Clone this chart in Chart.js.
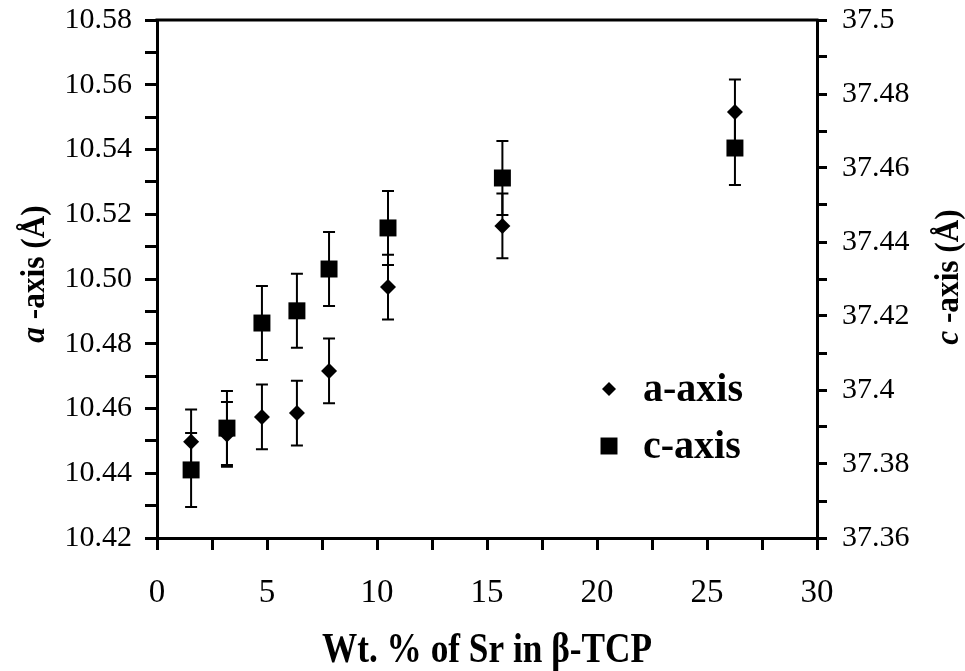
<!DOCTYPE html>
<html lang="en">
<head>
<meta charset="UTF-8">
<title>Lattice parameters vs Sr content</title>
<script src="https://cdn.jsdelivr.net/npm/chart.js"></script>
<style>
    html, body { margin: 0; padding: 0; background: #fff; }
    .wrap { width: 965px; height: 671px; position: relative; }
</style>
</head>
<body>
<div class="wrap"><canvas id="latticeChart"></canvas></div>
<script>
// data
const wtSr = [1.55, 3.18, 4.77, 6.36, 7.82, 10.5, 15.7, 26.27];
const aAxis = [10.4497, 10.452, 10.4574, 10.4586, 10.4716, 10.4975, 10.5164, 10.5516];
const aErr = [0.01, 0.01, 0.01, 0.01, 0.01, 0.01, 0.01, 0.01];
const cAxis = [37.3784, 37.3897, 37.4181, 37.4214, 37.4327, 37.4438, 37.4573, 37.4654];
const cErr = [0.01, 0.01, 0.01, 0.01, 0.01, 0.01, 0.01, 0.01];

// ticks (minor ticks have an empty label)
const xTicks = [0, 2.5, 5, 7.5, 10, 12.5, 15, 17.5, 20, 22.5, 25, 27.5, 30];
const xLabels = ['0', '', '5', '', '10', '', '15', '', '20', '', '25', '', '30'];
const aTicks = [10.42, 10.43, 10.44, 10.45, 10.46, 10.47, 10.48, 10.49, 10.50, 10.51, 10.52, 10.53, 10.54, 10.55, 10.56, 10.57, 10.58];
const aLabels = ['10.42', '', '10.44', '', '10.46', '', '10.48', '', '10.50', '', '10.52', '', '10.54', '', '10.56', '', '10.58'];
const cTicks = [37.36, 37.37, 37.38, 37.39, 37.40, 37.41, 37.42, 37.43, 37.44, 37.45, 37.46, 37.47, 37.48, 37.49, 37.50];
const cLabels = ['37.36', '', '37.38', '', '37.4', '', '37.42', '', '37.44', '', '37.46', '', '37.48', '', '37.5'];

const xTitle = 'Wt. % of Sr in \u03B2-TCP';
const serif = '"Liberation Serif", "Times New Roman", serif';

const toPoints = (ys) => wtSr.map((x, i) => ({ x: x, y: ys[i] }));
const setTicks = (values) => (scale) => { scale.ticks = values.map(v => ({ value: v })); };
// fixed axis box sizes so the plot area sits where it does in the figure
const fixBox = (w, h) => (s) => {
    if (w !== null) s.width = w;
    if (h !== null) s.height = h;
    s.paddingTop = 0; s.paddingBottom = 0; s.paddingLeft = 0; s.paddingRight = 0;
};

// vertical error bars with caps, drawn under the markers
const errorBars = {
    id: 'errorBars',
    beforeDatasetsDraw(chart) {
        const ctx = chart.ctx;
        const xs = chart.scales.x;
        ctx.save();
        ctx.strokeStyle = '#000';
        ctx.lineWidth = 2;
        [[aAxis, aErr, 'y'], [cAxis, cErr, 'y1']].forEach(([vals, errs, axis]) => {
            const ys = chart.scales[axis];
            vals.forEach((v, i) => {
                const px = xs.getPixelForValue(wtSr[i]);
                const top = ys.getPixelForValue(v + errs[i]);
                const bot = ys.getPixelForValue(v - errs[i]);
                ctx.beginPath();
                ctx.moveTo(px, top); ctx.lineTo(px, bot);
                ctx.moveTo(px - 6, top); ctx.lineTo(px + 6, top);
                ctx.moveTo(px - 6, bot); ctx.lineTo(px + 6, bot);
                ctx.stroke();
            });
        });
        ctx.restore();
    }
};

// frame top line, axis titles and the legend inside the plot
const decorations = {
    id: 'decorations',
    afterDraw(chart) {
        const { ctx, chartArea: ca } = chart;
        ctx.save();
        ctx.strokeStyle = '#000';
        ctx.lineWidth = 3;
        ctx.beginPath();
        ctx.moveTo(ca.left - 1.5, ca.top);
        ctx.lineTo(ca.right + 1.5, ca.top);
        ctx.stroke();

        ctx.fillStyle = '#000';
        ctx.textBaseline = 'alphabetic';

        // x title (narrow, tall lettering as in the source figure)
        ctx.save();
        ctx.font = 'bold 42px ' + serif;
        ctx.textAlign = 'center';
        ctx.translate((ca.left + ca.right) / 2, 662);
        ctx.scale(0.84, 1);
        ctx.fillText(xTitle, 0, 0);
        ctx.restore();

        // y titles with italic letter
        const drawRotated = (letter, rest, x, y) => {
            const fItal = 'italic bold 34px ' + serif;
            const fBold = 'bold 34px ' + serif;
            ctx.save();
            ctx.translate(x, y);
            ctx.rotate(-Math.PI / 2);
            ctx.scale(0.92, 1);
            ctx.textAlign = 'left';
            ctx.font = fItal;
            const w1 = ctx.measureText(letter).width;
            ctx.font = fBold;
            const w2 = ctx.measureText(rest).width;
            const start = -(w1 + w2) / 2;
            ctx.font = fItal;
            ctx.fillText(letter, start, 0);
            ctx.font = fBold;
            ctx.fillText(rest, start + w1, 0);
            ctx.restore();
        };
        drawRotated('a', ' -axis (\u00C5)', 44, 274);
        drawRotated('c', ' -axis (\u00C5)', 958, 277);

        // legend
        const items = [[chart.data.datasets[0], 389], [chart.data.datasets[1], 446]];
        ctx.font = 'bold 40px ' + serif;
        ctx.textAlign = 'left';
        ctx.textBaseline = 'middle';
        items.forEach(([ds, y]) => {
            const style = ds.pointStyle;
            Chart.helpers.drawPoint(ctx, {
                pointStyle: style,
                radius: style === 'rect' ? 12 : 7,
                rotation: 0,
                borderWidth: 0
            }, 609, y);
            ctx.fillStyle = '#000';
            ctx.fillText(ds.label, 643, y + 2);
        });
        ctx.restore();
    }
};

const tickFont = { family: serif, size: 30 };

new Chart(document.getElementById('latticeChart'), {
    type: 'scatter',
    data: {
        datasets: [
            {
                label: 'a-axis',
                data: toPoints(aAxis),
                yAxisID: 'y',
                pointStyle: 'rectRot',
                pointRadius: 8,
                backgroundColor: '#000',
                borderColor: '#000',
                borderWidth: 0
            },
            {
                label: 'c-axis',
                data: toPoints(cAxis),
                yAxisID: 'y1',
                pointStyle: 'rect',
                pointRadius: 12,
                backgroundColor: '#000',
                borderColor: '#000',
                borderWidth: 0
            }
        ]
    },
    options: {
        responsive: true,
        maintainAspectRatio: false,
        animation: false,
        events: [],
        layout: { padding: { top: 20, left: 0, right: 0, bottom: 0 } },
        plugins: {
            legend: { display: false },
            tooltip: { enabled: false }
        },
        scales: {
            x: {
                type: 'linear',
                min: 0, max: 30,
                afterBuildTicks: setTicks(xTicks),
                afterFit: fixBox(null, 133),
                border: { color: '#000', width: 3 },
                grid: { drawOnChartArea: false, color: '#000', tickColor: '#000', tickLength: 12, lineWidth: 3 },
                ticks: {
                    color: '#000', font: { family: serif, size: 33 }, padding: 24,
                    maxRotation: 0, autoSkip: false,
                    callback: (v, i) => xLabels[i]
                }
            },
            y: {
                type: 'linear',
                position: 'left',
                min: 10.42, max: 10.58,
                afterBuildTicks: setTicks(aTicks),
                afterFit: fixBox(157, null),
                border: { color: '#000', width: 3 },
                grid: { drawOnChartArea: false, color: '#000', tickColor: '#000', tickLength: 12, lineWidth: 3 },
                ticks: {
                    color: '#000', font: tickFont, padding: 13, autoSkip: false,
                    callback: (v, i) => aLabels[i]
                }
            },
            y1: {
                type: 'linear',
                position: 'right',
                min: 37.36, max: 37.5,
                afterBuildTicks: setTicks(cTicks),
                afterFit: fixBox(148, null),
                border: { color: '#000', width: 3 },
                grid: { drawOnChartArea: false, color: '#000', tickColor: '#000', tickLength: 10, lineWidth: 3 },
                ticks: {
                    color: '#000', font: tickFont, padding: 15, autoSkip: false,
                    callback: (v, i) => cLabels[i]
                }
            }
        }
    },
    plugins: [errorBars, decorations]
});
</script>
</body>
</html>
